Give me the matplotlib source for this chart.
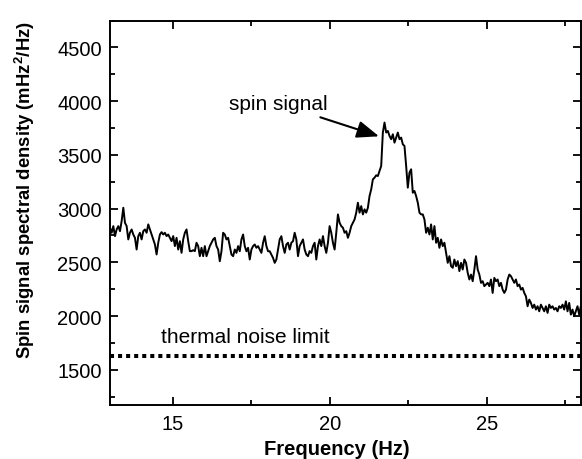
import numpy as np
import matplotlib
matplotlib.use('Agg')
import matplotlib.pyplot as plt
from matplotlib.ticker import MultipleLocator

plt.rcParams['font.family'] = ['Liberation Sans', 'DejaVu Sans']
plt.rcParams['mathtext.fontset'] = 'custom'
plt.rcParams['mathtext.rm'] = 'Liberation Sans'
plt.rcParams['mathtext.bf'] = 'Liberation Sans:bold'

# spectral density, evenly spaced from 13 Hz to 28 Hz
density = [
    2822, 2775, 2837, 2744, 2806, 2837, 2790, 2884, 3008, 2868,
    2837, 2713, 2775, 2806, 2759, 2728, 2619, 2744, 2775, 2713,
    2790, 2806, 2775, 2853, 2806, 2759, 2713, 2666, 2573, 2682,
    2759, 2781, 2759, 2775, 2744, 2759, 2728, 2697, 2744, 2651,
    2728, 2619, 2697, 2588, 2713, 2775, 2806, 2697, 2604, 2604,
    2613, 2604, 2682, 2651, 2557, 2635, 2557, 2651,
    2557, 2603, 2651, 2682, 2713, 2728, 2651, 2619, 2510, 2603,
    2775, 2759, 2713, 2728, 2651, 2573, 2557, 2619, 2588, 2651,
    2603, 2713, 2759, 2651, 2603, 2635, 2526, 2619, 2651, 2666,
    2635, 2651, 2619, 2588, 2682, 2743, 2651, 2603, 2603, 2573,
    2541, 2495, 2526, 2619, 2713, 2743, 2651, 2588, 2666, 2682,
    2619, 2682, 2697, 2775, 2713, 2557, 2651,
    2682, 2713, 2619, 2573, 2557, 2604, 2588, 2651, 2682, 2526,
    2651, 2713, 2651, 2744, 2651, 2588, 2682, 2837, 2775, 2682,
    2619, 2775, 2946, 2868, 2837, 2822, 2775, 2790, 2728, 2775,
    2837, 2868, 2899, 2962, 3055, 2962, 3023, 2946, 2993, 2962,
    3008, 3117, 3179, 3272, 3288, 3310, 3303, 3350, 3397, 3708,
    3801, 3708, 3723, 3677, 3646, 3692, 3614,
    3661, 3708, 3646, 3661, 3599, 3583, 3397, 3195, 3335, 3366,
    3148, 3164, 3117, 3055, 2962, 2946, 2946, 2899, 2775, 2822,
    2759, 2853, 2713, 2837, 2682, 2728, 2635, 2713, 2651, 2682,
    2589, 2495, 2557, 2464, 2449, 2526, 2464, 2511, 2418, 2495,
    2433, 2526, 2495, 2402, 2340, 2386, 2324, 2433, 2557, 2433,
    2386, 2309, 2324, 2278, 2293, 2309, 2278,
    2340, 2215, 2355, 2324, 2340, 2278, 2309, 2246, 2215, 2246,
    2340, 2386, 2371, 2340, 2309, 2340, 2278, 2293, 2246, 2262,
    2215, 2184, 2091, 2153, 2122, 2075, 2106, 2060, 2091, 2044,
    2106, 2075, 2044, 2091, 2029, 2106, 2075, 2091, 2060, 2075,
    2044, 2091, 2075, 2106, 2060, 2137, 2044, 2122, 2013, 2060,
    1998, 2044, 2091, 2013, 2091,
]
freq_start, freq_stop = 13, 28
thermal_limit = 1630

freq = np.linspace(freq_start, freq_stop, len(density))

fig = plt.figure(figsize=(5.82, 4.60), dpi=100)
ax = fig.add_axes([0.189, 0.117, 0.809, 0.836])

ax.plot(freq, density, color='black', lw=1.4)
ax.axhline(thermal_limit, color='black', lw=2.9, ls=(0, (1, 1)))

ax.text(17.3, 1756, 'thermal noise limit', fontsize=15, va='baseline', ha='center')
ax.annotate('spin signal', xy=(21.57, 3673), xytext=(19.94, 3925),
            fontsize=15, va='baseline', ha='right',
            arrowprops=dict(arrowstyle='-|>,head_length=0.9,head_width=0.35',
                            color='black', lw=1.5, shrinkA=3, shrinkB=0))

ax.set_xlim(freq_start, freq_stop)
ax.set_ylim(1170, 4750)
ax.xaxis.set_major_locator(MultipleLocator(5))
ax.xaxis.set_minor_locator(MultipleLocator(2.5))
ax.yaxis.set_major_locator(MultipleLocator(500))
ax.yaxis.set_minor_locator(MultipleLocator(250))
ax.tick_params(which='both', direction='in', top=True, right=True, width=1.3)
ax.tick_params(which='major', length=6, labelsize=14.5, pad=6)
ax.tick_params(which='minor', length=3.5)
for s in ax.spines.values():
    s.set_linewidth(1.4)

ax.set_xlabel('Frequency (Hz)', fontsize=14.5, fontweight='bold')
ax.set_ylabel(r'Spin signal spectral density (mHz$^{\mathbf{2}}$/Hz)',
              fontsize=13.3, fontweight='bold')
ax.xaxis.set_label_coords(0.482, -0.088)
ax.yaxis.set_label_coords(-0.155, 0.561)

fig.savefig('out.png', dpi=100)
